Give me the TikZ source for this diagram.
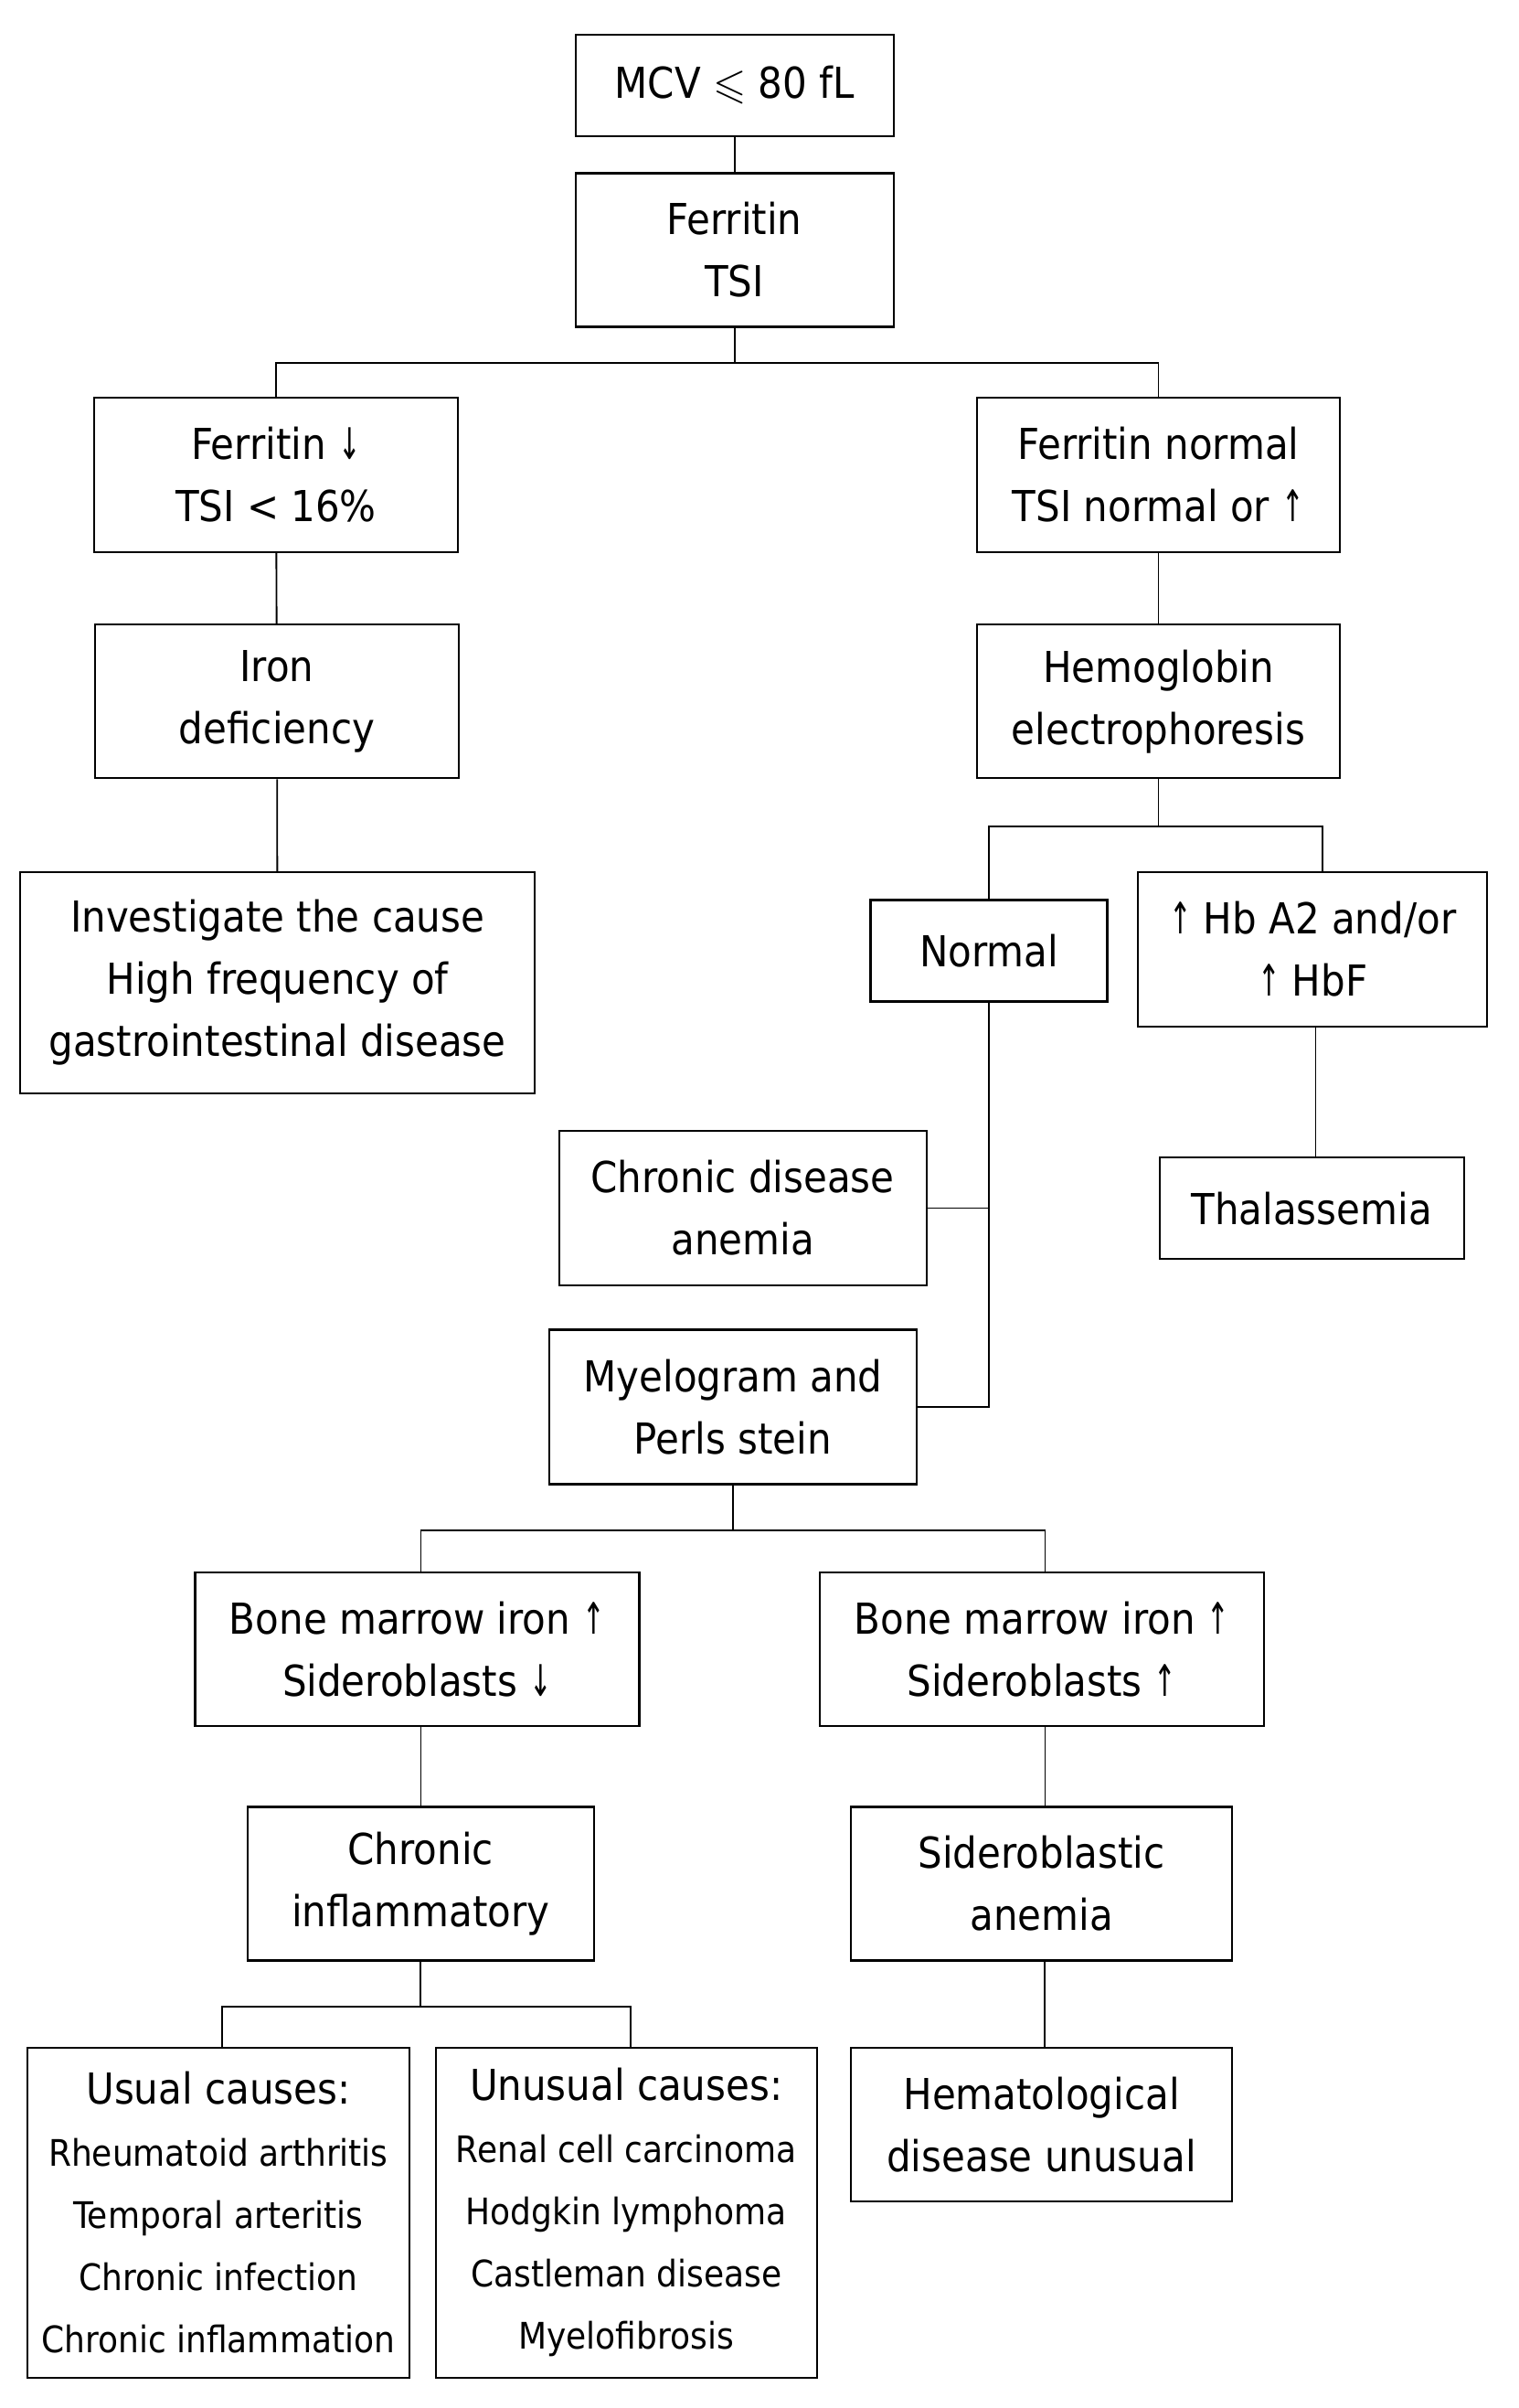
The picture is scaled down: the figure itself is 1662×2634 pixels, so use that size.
\documentclass[tikz,border=0pt]{standalone}
\usepackage{amssymb}
\usepackage{graphicx}
\usepackage{fontspec}
\setmainfont{DejaVu Sans Condensed}
\newcommand\smtext{\fontsize{12}{20.4}\selectfont}
\newcommand\uparr{\scalebox{0.7}[1.02]{↑}}
\newcommand\dnarr{\scalebox{0.7}[1.02]{↓}}
\begin{document}
\begin{tikzpicture}[x=0.3pt,y=-0.3pt,
  box/.style={draw, line width=0.65pt, inner sep=0pt, align=center,
    font=\fontsize{14}{20.4}\selectfont},
  wh/.style 2 args={minimum width={#1*0.3pt}, minimum height={#2*0.3pt}},
  conn/.style={line width=0.55pt}]
\useasboundingbox (0,0) rectangle (1662,2634);
\fill[white] (0,0) rectangle (1662,2634);

\node[box, wh={348}{111}] (mcv)    at (803.6,93.3)    {MCV $\leqslant$ 80 fL};
\node[box, wh={348}{168}] (fer)    at (803.6,273.5)   {Ferritin\\TSI};
\node[box, wh={398}{169}] (fdown)  at (302,519.5)     {Ferritin \dnarr\\TSI < 16\%};
\node[box, wh={397}{169}] (fnorm)  at (1267.5,519.5)  {Ferritin normal\\TSI normal or \uparr};
\node[box, wh={398}{168}] (iron)   at (303,767.2)     {Iron\\deficiency};
\node[box, wh={397}{168}] (hemo)   at (1267.5,767.2)  {Hemoglobin\\electrophoresis};
\node[box, wh={563}{242}] (invest) at (303.6,1074.9)  {Investigate the cause\\High frequency of\\gastrointestinal disease};
\node[box, wh={259}{111}] (normal) at (1082,1039.9)   {Normal};
\node[box, wh={382}{169}] (hba2)   at (1436.2,1038.4) {\uparr{} Hb A2 and/or\\\uparr{} HbF};
\node[box, wh={333}{111}] (thal)   at (1435.3,1321.7) {Thalassemia};
\node[box, wh={402}{169}] (cda)    at (812.6,1321.4)  {Chronic disease\\anemia};
\node[box, wh={402}{169}] (myelo)  at (802,1539)      {Myelogram and\\Perls stein};
\node[box, wh={486}{168}] (bm1)    at (456.5,1803.7)  {Bone marrow iron \uparr\\Sideroblasts \dnarr};
\node[box, wh={486}{168}] (bm2)    at (1140.1,1803.7) {Bone marrow iron \uparr\\Sideroblasts \uparr};
\node[box, wh={379}{168}] (chinf)  at (460.2,2060.5)  {Chronic\\inflammatory};
\node[box, wh={417}{168}] (sidan)  at (1139.6,2060.5) {Sideroblastic\\anemia};
\node[box, wh={418}{361}] (usual)  at (238.9,2420.3)  {Usual causes:\\\smtext Rheumatoid arthritis\\\smtext Temporal arteritis\\\smtext Chronic infection\\\smtext Chronic inflammation};
\node[box, wh={417}{361}] (unusual) at (685.2,2420.3) {Unusual causes:\\\smtext Renal cell carcinoma\\\smtext Hodgkin lymphoma\\\smtext Castleman disease\\\smtext Myelofibrosis};
\node[box, wh={417}{168}] (hemat)  at (1139.6,2324.2) {Hematological\\disease unusual};

\draw[conn] (mcv) -- (fer);
\draw[conn] (fer.south) -- ++(0,38.5) coordinate (j1);
\draw[conn] (fdown.north) |- (j1) -| (fnorm.north);
\draw[conn] (fdown) -- (iron);
\draw[conn] (iron) -- (invest);
\draw[conn] (fnorm) -- (hemo);
\draw[conn] (hemo.south) -- ++(0,52) coordinate (j2);
\draw[conn] (normal.north) |- (j2) -| ([xshift=3.3pt]hba2.north);
\draw[conn] ([xshift=1pt]hba2.south) -- ([xshift=1pt]hba2.south |- thal.north);
\draw[conn] (normal.south) |- (myelo.east);
\draw[conn] (cda.east) -| (normal.south);
\draw[conn] (myelo.south) -- ++(0,49) coordinate (j3);
\draw[conn] ([xshift=1.2pt]bm1.north) |- (j3) -| ([xshift=1pt]bm2.north);
\draw[conn] ([xshift=1.2pt]bm1.south) -- ([xshift=1.2pt]bm1.south |- chinf.north);
\draw[conn] ([xshift=1pt]bm2.south) -- ([xshift=1pt]bm2.south |- sidan.north);
\draw[conn] (chinf.south) -- ++(0,49) coordinate (j4);
\draw[conn] ([xshift=1.2pt]usual.north) |- (j4) -| ([xshift=1.4pt]unusual.north);
\draw[conn] ([xshift=1pt]sidan.south) -- ([xshift=1pt]sidan.south |- hemat.north);
\end{tikzpicture}
\end{document}
